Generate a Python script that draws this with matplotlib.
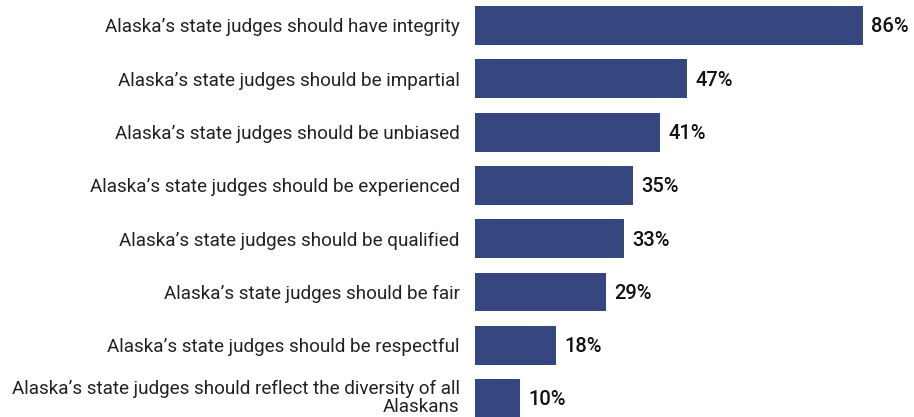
import matplotlib.pyplot as plt
import matplotlib.transforms as mtransforms

plt.rcParams['font.family'] = ['Roboto', 'DejaVu Sans']

labels = [
    'Alaska\u2019s state judges should have integrity',
    'Alaska\u2019s state judges should be impartial',
    'Alaska\u2019s state judges should be unbiased',
    'Alaska\u2019s state judges should be experienced',
    'Alaska\u2019s state judges should be qualified',
    'Alaska\u2019s state judges should be fair',
    'Alaska\u2019s state judges should be respectful',
    'Alaska\u2019s state judges should reflect the diversity of all\nAlaskans',
]
values = [86, 47, 41, 35, 33, 29, 18, 10]

bar_color = '#36467f'

fig = plt.figure(figsize=(9.14, 4.17), dpi=100)
ax = fig.add_axes([475 / 914, 0, 1 - 475 / 914, 1])

pos = list(range(len(values)))
ax.barh(pos, values, height=0.73, color=bar_color)

pitch = 53.3
ax.set_ylim((417 - 25.5) / pitch, -25.5 / pitch)
ax.set_xlim(0, 439 / 4.51)

ax.set_yticks(pos)
ax.set_yticklabels(labels, fontsize=13.6, color='#222222', ha='right',
                   multialignment='right', linespacing=1.05)
ax.tick_params(axis='y', length=0, pad=11)
ax.set_xticks([])
for s in ax.spines.values():
    s.set_visible(False)

# nudge the wrapped last label up so it stays inside the figure
last = ax.get_yticklabels()[-1]
last.set_transform(last.get_transform() +
                   mtransforms.ScaledTranslation(0, 3 / 100, fig.dpi_scale_trans))

for p, v in zip(pos, values):
    ax.annotate(f'{v}%', (v, p), xytext=(6, -1), textcoords='offset points',
                va='center', ha='left', fontsize=14.5, fontweight='medium',
                color='#111111', annotation_clip=False)

fig.savefig('out.png', dpi=100)
